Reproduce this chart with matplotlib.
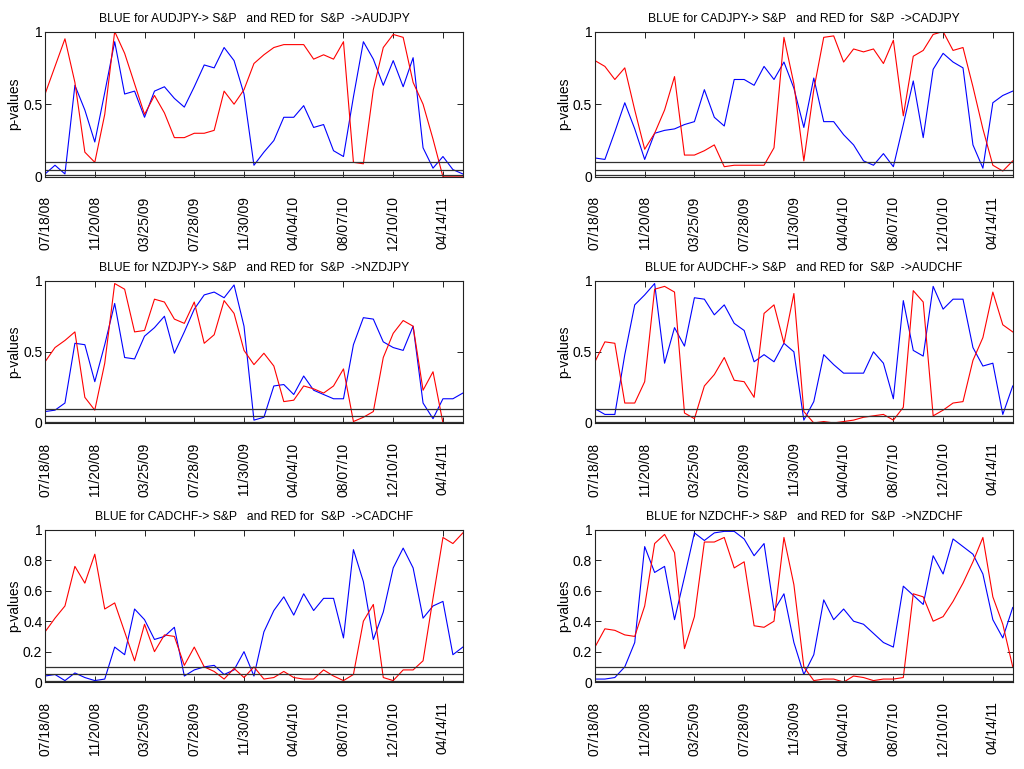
import numpy as np
import matplotlib
matplotlib.use('Agg')
import matplotlib.pyplot as plt

plt.rcParams['font.family'] = ['Liberation Sans', 'DejaVu Sans']

date_labels = ['07/18/08', '11/20/08', '03/25/09', '07/28/09', '11/30/09',
               '04/04/10', '08/07/10', '12/10/10', '04/14/11']
pairs = ['AUDJPY', 'CADJPY', 'NZDJPY', 'AUDCHF', 'CADCHF', 'NZDCHF']
levels = [0.1, 0.05, 0.01]

# blue: pair -> S&P, red: S&P -> pair
audjpy_blue = [0.02, 0.08, 0.02, 0.63, 0.46, 0.24, 0.58, 0.93, 0.57, 0.59, 0.41,
               0.59, 0.62, 0.54, 0.48, 0.62, 0.77, 0.75, 0.89, 0.80, 0.57, 0.08,
               0.17, 0.25, 0.41, 0.41, 0.49, 0.34, 0.36, 0.18, 0.14, 0.55, 0.93,
               0.81, 0.63, 0.80, 0.62, 0.82, 0.20, 0.06, 0.14, 0.05, 0.02]
audjpy_red = [0.57, 0.76, 0.95, 0.65, 0.17, 0.10, 0.43, 1.00, 0.85, 0.64, 0.43,
              0.56, 0.44, 0.27, 0.27, 0.30, 0.30, 0.32, 0.59, 0.50, 0.60, 0.78,
              0.84, 0.89, 0.91, 0.91, 0.91, 0.81, 0.84, 0.81, 0.93, 0.10, 0.09,
              0.60, 0.89, 0.98, 0.96, 0.65, 0.50, 0.26, 0.00, 0.00, 0.00]

cadjpy_blue = [0.13, 0.12, 0.31, 0.51, 0.33, 0.12, 0.30, 0.32, 0.33, 0.36, 0.38,
               0.60, 0.41, 0.35, 0.67, 0.67, 0.63, 0.76, 0.67, 0.79, 0.61, 0.34,
               0.68, 0.38, 0.38, 0.29, 0.22, 0.11, 0.08, 0.16, 0.07, 0.36, 0.66,
               0.27, 0.74, 0.85, 0.79, 0.75, 0.22, 0.06, 0.51, 0.56, 0.59]
cadjpy_red = [0.80, 0.76, 0.67, 0.75, 0.46, 0.19, 0.30, 0.46, 0.69, 0.15, 0.15,
              0.18, 0.22, 0.07, 0.08, 0.08, 0.08, 0.08, 0.20, 0.96, 0.64, 0.11,
              0.60, 0.96, 0.97, 0.79, 0.88, 0.86, 0.88, 0.78, 0.94, 0.42, 0.83,
              0.87, 0.98, 1.00, 0.87, 0.89, 0.62, 0.33, 0.08, 0.04, 0.11]

nzdjpy_blue = [0.08, 0.09, 0.14, 0.56, 0.55, 0.29, 0.55, 0.84, 0.46, 0.45, 0.61,
               0.67, 0.75, 0.49, 0.64, 0.80, 0.90, 0.92, 0.88, 0.97, 0.68, 0.02,
               0.04, 0.26, 0.27, 0.20, 0.33, 0.23, 0.20, 0.17, 0.17, 0.55, 0.74,
               0.73, 0.57, 0.53, 0.51, 0.68, 0.14, 0.03, 0.17, 0.17, 0.21]
nzdjpy_red = [0.43, 0.53, 0.58, 0.64, 0.18, 0.09, 0.42, 0.98, 0.94, 0.64, 0.65,
              0.87, 0.85, 0.73, 0.70, 0.85, 0.56, 0.62, 0.86, 0.77, 0.51, 0.41,
              0.49, 0.40, 0.15, 0.16, 0.26, 0.24, 0.21, 0.26, 0.38, 0.01, 0.04,
              0.08, 0.46, 0.63, 0.72, 0.68, 0.23, 0.36, 0.00, 0.00, 0.00]

audchf_blue = [0.10, 0.06, 0.06, 0.48, 0.83, 0.90, 0.98, 0.42, 0.67, 0.54, 0.88,
               0.87, 0.76, 0.83, 0.70, 0.65, 0.43, 0.48, 0.43, 0.56, 0.50, 0.02,
               0.15, 0.48, 0.41, 0.35, 0.35, 0.35, 0.50, 0.42, 0.17, 0.86, 0.51,
               0.47, 0.96, 0.80, 0.87, 0.87, 0.53, 0.40, 0.42, 0.06, 0.26]
audchf_red = [0.43, 0.57, 0.56, 0.14, 0.14, 0.29, 0.94, 0.96, 0.92, 0.07, 0.03,
              0.26, 0.34, 0.46, 0.30, 0.29, 0.18, 0.77, 0.83, 0.56, 0.91, 0.08,
              0.00, 0.01, 0.00, 0.01, 0.02, 0.04, 0.05, 0.06, 0.02, 0.11, 0.93,
              0.85, 0.05, 0.09, 0.14, 0.15, 0.44, 0.60, 0.92, 0.69, 0.64]

cadchf_blue = [0.04, 0.05, 0.01, 0.06, 0.03, 0.01, 0.02, 0.23, 0.18, 0.48, 0.41,
               0.28, 0.30, 0.36, 0.04, 0.08, 0.10, 0.11, 0.05, 0.08, 0.20, 0.04,
               0.33, 0.47, 0.56, 0.44, 0.58, 0.47, 0.55, 0.55, 0.29, 0.87, 0.66,
               0.28, 0.46, 0.75, 0.88, 0.75, 0.42, 0.50, 0.53, 0.18, 0.23]
cadchf_red = [0.33, 0.42, 0.50, 0.76, 0.65, 0.84, 0.48, 0.52, 0.33, 0.14, 0.38,
              0.20, 0.31, 0.30, 0.11, 0.23, 0.10, 0.07, 0.02, 0.09, 0.03, 0.10,
              0.02, 0.03, 0.07, 0.03, 0.02, 0.02, 0.08, 0.04, 0.01, 0.05, 0.40,
              0.51, 0.03, 0.01, 0.08, 0.08, 0.14, 0.55, 0.95, 0.91, 0.98]

nzdchf_blue = [0.02, 0.02, 0.03, 0.10, 0.26, 0.89, 0.72, 0.76, 0.41, 0.69, 0.98,
               0.93, 0.98, 0.99, 0.99, 0.94, 0.83, 0.91, 0.47, 0.58, 0.26, 0.05,
               0.18, 0.54, 0.41, 0.48, 0.40, 0.38, 0.32, 0.26, 0.23, 0.63, 0.57,
               0.51, 0.83, 0.71, 0.94, 0.89, 0.84, 0.71, 0.41, 0.29, 0.49]
nzdchf_red = [0.23, 0.35, 0.34, 0.31, 0.30, 0.50, 0.91, 0.97, 0.85, 0.22, 0.43,
              0.92, 0.92, 0.95, 0.75, 0.79, 0.37, 0.36, 0.40, 0.95, 0.64, 0.10,
              0.01, 0.02, 0.02, 0.00, 0.04, 0.03, 0.01, 0.02, 0.02, 0.03, 0.58,
              0.56, 0.40, 0.43, 0.53, 0.65, 0.79, 0.95, 0.56, 0.38, 0.10]

blues = [audjpy_blue, cadjpy_blue, nzdjpy_blue, audchf_blue, cadchf_blue, nzdchf_blue]
reds = [audjpy_red, cadjpy_red, nzdjpy_red, audchf_red, cadchf_red, nzdchf_red]

# axes boxes in figure fractions [left, bottom, width, height]
col_left = [0.044, 0.581]
row_box = [(0.770, 0.189), (0.450, 0.185), (0.113, 0.198)]

fig = plt.figure(figsize=(10.24, 7.69), dpi=100)

for k, pair in enumerate(pairs):
    r, c = divmod(k, 2)
    b, h = row_box[r]
    ax = fig.add_axes([col_left[c], b, 0.408, h])
    x = np.arange(len(blues[k]))
    ax.plot(x, blues[k], color='#0000ff', lw=0.8)
    ax.plot(x, reds[k], color='#ff0000', lw=0.8)
    for lv in levels:
        ax.axhline(lv, color='#303030', lw=0.9)
    ax.set_xlim(0, len(x) - 1)
    ax.set_ylim(0, 1)
    ax.set_xticks(np.arange(0, len(x), 5))
    ax.set_xticklabels(date_labels, rotation=90)
    if r == 2:
        ax.set_yticks([0, 0.2, 0.4, 0.6, 0.8, 1])
        ax.set_yticklabels(['0', '0.2', '0.4', '0.6', '0.8', '1'])
    else:
        ax.set_yticks([0, 0.5, 1])
        ax.set_yticklabels(['0', '0.5', '1'])
    ax.tick_params(direction='in', top=True, right=True, length=4,
                   width=0.7, labelsize=10, color='#222222')
    ax.tick_params(axis='x', pad=14)
    ax.tick_params(axis='y', pad=2)
    for s in ax.spines.values():
        s.set_linewidth(0.8)
        s.set_color('#222222')
    ax.set_ylabel('p-values', fontsize=10, labelpad=1)
    ax.set_title('BLUE for ' + pair + '-> S&P   and RED for  S&P  ->' + pair,
                 fontsize=8.7, pad=7)

fig.savefig('out.png', dpi=100)
